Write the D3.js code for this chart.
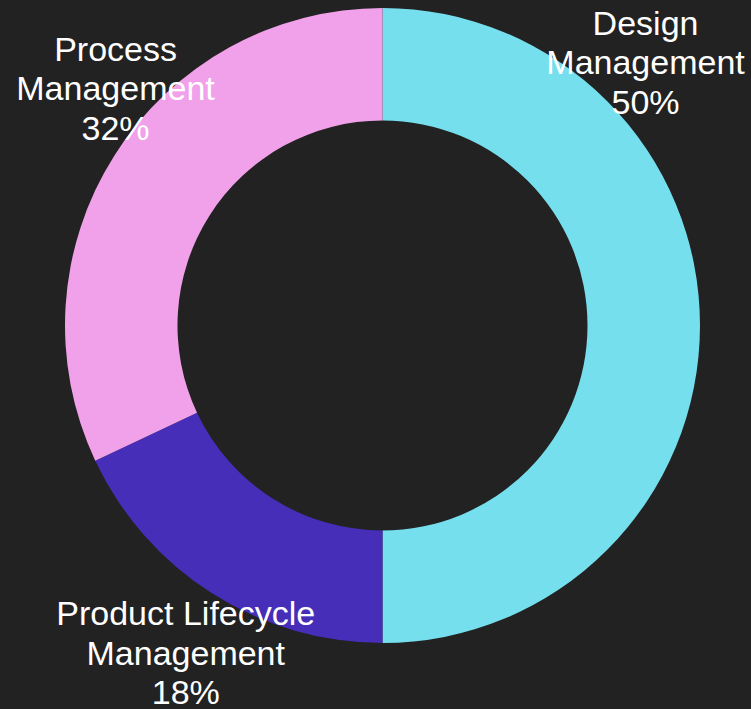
<!DOCTYPE html>
<html>
<head>
<meta charset="utf-8">
<script src="https://cdn.jsdelivr.net/npm/d3@7"></script>
<style>
  html, body { margin: 0; padding: 0; background: #222222; }
  #chart text { font-family: "Liberation Sans", Arial, sans-serif; fill: #ffffff; }
</style>
</head>
<body>
<div id="chart"></div>
<script>
// data
const categories = ["Design Management", "Product Lifecycle Management", "Process Management"];
const shares = [50, 18, 32];
const labelLines = [["Design", "Management"], ["Product Lifecycle", "Management"], ["Process", "Management"]];
const colors = ["#76dfee", "#462eb8", "#f1a1ea"];

// layout
const width = 751, height = 709;
const cx = 382.5, cy = 325.5;
const outerR = 317.5, innerR = 205;
// where each label sits (degrees clockwise from 12 o'clock, distance from centre)
const labelPlace = [{angle: 45, dist: 372}, {angle: 211, dist: 382}, {angle: 311.6, dist: 357}];
const fontSize = 34, lineH = 39.5;

const svg = d3.select("#chart").append("svg")
    .attr("width", width)
    .attr("height", height);

svg.append("rect").attr("width", width).attr("height", height).attr("fill", "#222222");

const g = svg.append("g").attr("transform", `translate(${cx}, ${cy})`);

const pie = d3.pie().sort(null).value(d => d);
const arcs = pie(shares);

const arc = d3.arc().innerRadius(innerR).outerRadius(outerR);

g.selectAll("path.slice")
    .data(arcs)
    .join("path")
    .attr("class", "slice")
    .attr("d", arc)
    .attr("fill", (d, i) => colors[i]);

// labels
const labels = g.selectAll("text.label")
    .data(arcs)
    .join("text")
    .attr("class", "label")
    .attr("text-anchor", "middle")
    .attr("font-size", fontSize)
    .attr("transform", (d, i) => {
        const a = labelPlace[i].angle * Math.PI / 180;
        const r = labelPlace[i].dist;
        return `translate(${r * Math.sin(a)}, ${-r * Math.cos(a)})`;
    });

labels.each(function(d, i) {
    const lines = labelLines[i].concat([shares[i] + "%"]);
    const t = d3.select(this);
    lines.forEach((ln, k) => {
        t.append("tspan")
            .attr("x", 0)
            .attr("y", (k - 1) * lineH)
            .attr("dy", "0.35em")
            .text(ln);
    });
});
</script>
</body>
</html>
